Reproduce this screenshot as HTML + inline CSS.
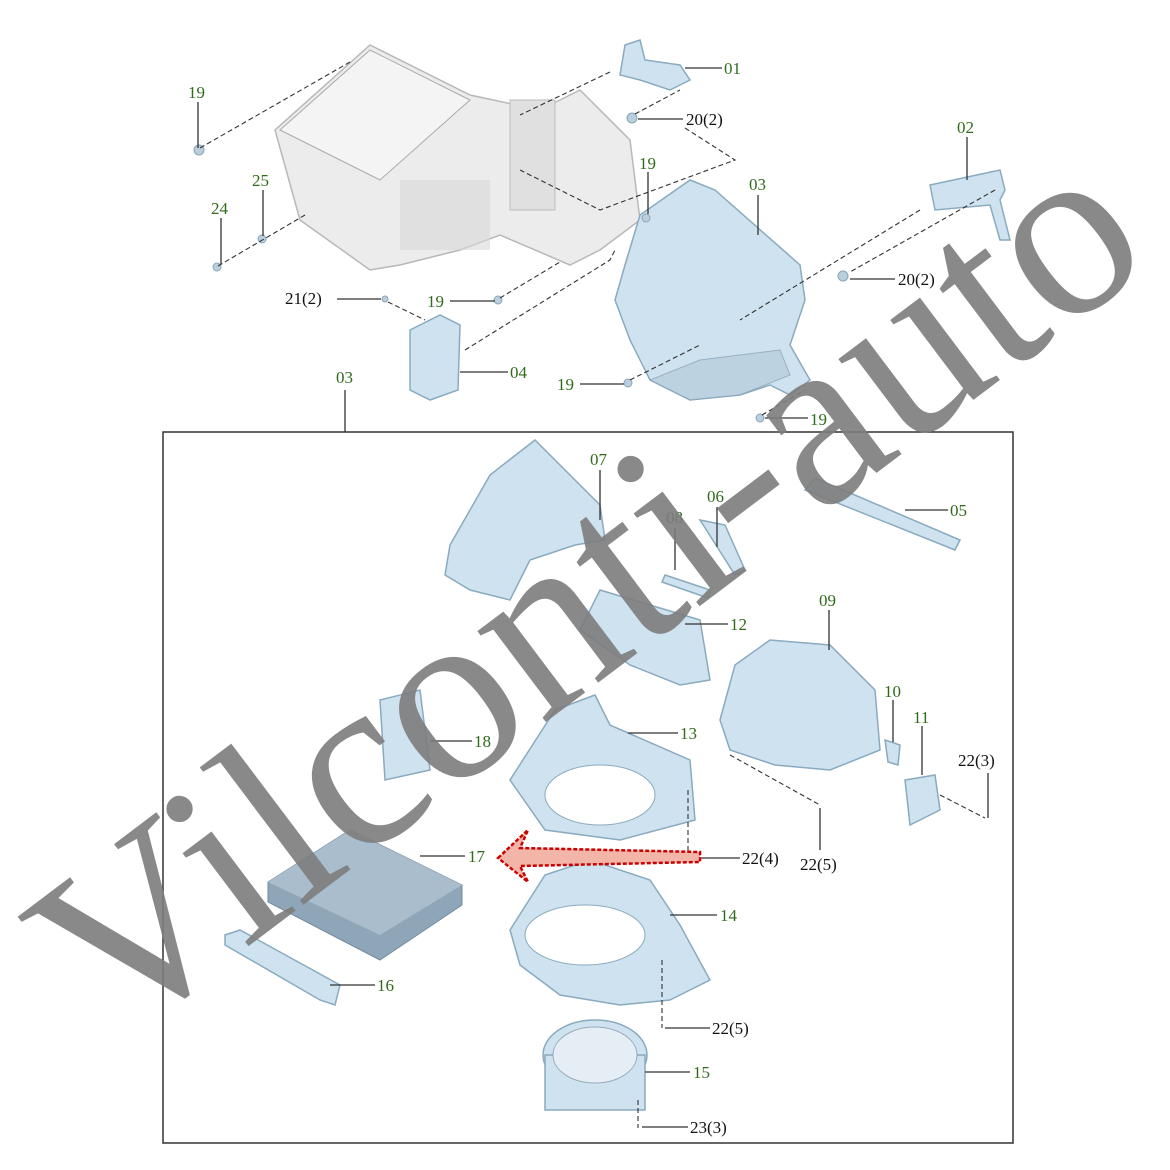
<!DOCTYPE html>
<html><head><meta charset="utf-8"><style>
html,body{margin:0;padding:0;background:#fff;}
svg{display:block}
.l{font-family:"Liberation Serif",serif;font-size:17px;fill:#2f6b1a}
.k{font-family:"Liberation Serif",serif;font-size:17px;fill:#111}
.ln{stroke:#333;stroke-width:1.3;fill:none}
.d{stroke:#333;stroke-width:1.1;stroke-dasharray:5,3;fill:none}
.p{fill:#cfe2ef;stroke:#8aaabf;stroke-width:1.5}
.g{fill:#ececec;stroke:#b8b8b8;stroke-width:1.5}
.n{fill:#b9cfde;stroke:#8aa5b8;stroke-width:1}
</style></head><body>
<svg width="1170" height="1170" viewBox="0 0 1170 1170" xmlns="http://www.w3.org/2000/svg">
<rect width="1170" height="1170" fill="#fff"/>
<polygon class="g" points="275,130 370,45 470,95 540,110 580,90 630,140 640,220 600,250 570,265 500,235 460,250 400,265 370,270 300,220"/>
<polygon points="280,130 370,50 470,100 380,180" fill="#f4f4f4" stroke="#aaa"/>
<rect x="400" y="180" width="90" height="70" fill="#d8d8d8" opacity=".6"/>
<rect x="510" y="100" width="45" height="110" fill="#e0e0e0" stroke="#bbb"/>
<polygon class="p" points="625,45 640,40 645,60 680,65 690,80 670,90 640,80 620,75"/>
<polygon class="p" points="930,185 1000,170 1005,190 1000,200 1010,240 1000,240 990,205 935,210"/>
<polygon class="p" points="640,215 690,180 715,190 800,265 805,300 790,345 810,380 790,395 770,385 740,395 690,400 650,380 630,340 615,300 625,265"/>
<polygon class="n" points="650,380 690,400 740,395 790,375 780,350 700,360" opacity=".8"/>
<polygon class="p" points="410,330 440,315 460,325 458,390 430,400 410,390"/>
<g class="n">
<circle cx="199" cy="150" r="5"/><circle cx="217" cy="267" r="4"/><circle cx="262" cy="239" r="4"/>
<circle cx="632" cy="118" r="5"/><circle cx="646" cy="218" r="4"/><circle cx="498" cy="300" r="4"/>
<circle cx="385" cy="299" r="3"/><circle cx="843" cy="276" r="5"/><circle cx="628" cy="383" r="4"/><circle cx="760" cy="418" r="4"/>
</g>
<line class="ln" x1="198" y1="102" x2="198" y2="148"/><text class="l" x="188" y="98">19</text>
<line class="ln" x1="263" y1="190" x2="263" y2="236"/><text class="l" x="252" y="186">25</text>
<line class="ln" x1="221" y1="218" x2="221" y2="264"/><text class="l" x="211" y="214">24</text>
<line class="d" x1="200" y1="148" x2="350" y2="62"/>
<line class="d" x1="218" y1="266" x2="305" y2="215"/>
<line class="ln" x1="685" y1="68" x2="722" y2="68"/><text class="l" x="724" y="74">01</text>
<line class="d" x1="610" y1="72" x2="520" y2="115"/>
<line class="ln" x1="638" y1="119" x2="683" y2="119"/><text class="k" x="686" y="125">20(2)</text>
<line class="d" x1="635" y1="114" x2="680" y2="90"/>
<polyline class="d" points="685,128 735,160 600,210 520,170"/>
<line class="ln" x1="648" y1="172" x2="648" y2="214"/><text class="l" x="639" y="169">19</text>
<line class="ln" x1="758" y1="195" x2="758" y2="235"/><text class="l" x="749" y="190">03</text>
<line class="ln" x1="967" y1="137" x2="967" y2="180"/><text class="l" x="957" y="133">02</text>
<line class="d" x1="920" y1="210" x2="740" y2="320"/>
<line class="d" x1="995" y1="190" x2="850" y2="272"/>
<line class="ln" x1="850" y1="279" x2="895" y2="279"/><text class="k" x="898" y="285">20(2)</text>
<line class="ln" x1="337" y1="299" x2="381" y2="299"/><text class="k" x="285" y="304">21(2)</text>
<line class="d" x1="388" y1="302" x2="425" y2="320"/>
<line class="ln" x1="450" y1="301" x2="495" y2="301"/><text class="l" x="427" y="307">19</text>
<line class="d" x1="500" y1="298" x2="560" y2="262"/>
<polyline class="d" points="465,350 610,260 615,250"/>
<line class="ln" x1="460" y1="372" x2="508" y2="372"/><text class="l" x="510" y="378">04</text>
<line class="ln" x1="580" y1="384" x2="624" y2="384"/><text class="l" x="557" y="390">19</text>
<line class="d" x1="630" y1="380" x2="700" y2="345"/>
<line class="ln" x1="765" y1="418" x2="808" y2="418"/><text class="l" x="810" y="425">19</text>
<line class="d" x1="762" y1="415" x2="805" y2="390"/>
<text class="l" x="336" y="383">03</text>
<line class="ln" x1="345" y1="390" x2="345" y2="432"/>
<rect x="163" y="432" width="850" height="711" fill="none" stroke="#333" stroke-width="1.5"/>
<polygon class="p" points="450,545 490,475 535,440 555,460 600,505 605,540 575,545 530,560 510,600 470,590 445,575"/>
<polygon class="p" points="815,478 960,540 955,550 805,490"/>
<polygon class="p" points="700,520 725,525 745,570 735,575"/>
<polygon class="p" points="665,575 710,590 708,598 662,582"/>
<polygon class="p" points="600,590 650,605 700,620 710,680 680,685 630,665 580,630"/>
<polygon class="p" points="735,665 770,640 830,645 875,690 880,750 830,770 775,765 730,750 720,720"/>
<polygon class="p" points="380,700 420,690 430,770 385,780"/>
<polygon class="p" points="555,710 595,695 610,725 690,760 695,820 620,840 545,830 510,780"/>
<ellipse cx="600" cy="795" rx="55" ry="30" fill="#fff" stroke="#8aaabf"/>
<polygon class="p" points="885,740 900,745 898,765 888,762"/>
<polygon class="p" points="905,780 935,775 940,810 910,825"/>
<polygon points="268,882 350,830 462,885 462,905 380,960 268,902" fill="#8ea6b8" stroke="#6e8aa0"/>
<polygon points="268,882 350,830 462,885 380,935" fill="#a9bdcc"/>
<polygon class="p" points="225,935 240,930 340,985 335,1005 320,1000 225,945"/>
<polygon class="p" points="545,875 590,860 650,880 680,925 710,980 690,990 670,1000 620,1005 560,995 520,965 510,930"/>
<ellipse cx="585" cy="935" rx="60" ry="30" fill="#fff" stroke="#8aaabf"/>
<ellipse cx="595" cy="1055" rx="52" ry="35" class="p"/>
<rect x="545" y="1055" width="100" height="55" class="p"/>
<ellipse cx="595" cy="1055" rx="42" ry="28" fill="#e5eef5" stroke="#9ab"/>
<line class="ln" x1="600" y1="470" x2="600" y2="520"/><text class="l" x="590" y="465">07</text>
<line class="ln" x1="717" y1="507" x2="717" y2="547"/><text class="l" x="707" y="502">06</text>
<line class="ln" x1="675" y1="528" x2="675" y2="570"/><text class="l" x="666" y="523">08</text>
<line class="ln" x1="905" y1="510" x2="948" y2="510"/><text class="l" x="950" y="516">05</text>
<line class="ln" x1="685" y1="624" x2="728" y2="624"/><text class="l" x="730" y="630">12</text>
<line class="ln" x1="829" y1="610" x2="829" y2="650"/><text class="l" x="819" y="606">09</text>
<line class="ln" x1="893" y1="700" x2="893" y2="742"/><text class="l" x="884" y="697">10</text>
<line class="ln" x1="922" y1="726" x2="922" y2="775"/><text class="l" x="913" y="723">11</text>
<text class="k" x="958" y="766">22(3)</text>
<line class="ln" x1="988" y1="773" x2="988" y2="818"/>
<line class="d" x1="940" y1="795" x2="985" y2="818"/>
<line class="ln" x1="628" y1="733" x2="678" y2="733"/><text class="l" x="680" y="739">13</text>
<line class="ln" x1="430" y1="741" x2="472" y2="741"/><text class="l" x="474" y="747">18</text>
<line class="d" x1="730" y1="755" x2="820" y2="805"/>
<line class="ln" x1="820" y1="808" x2="820" y2="850"/><text class="k" x="800" y="870">22(5)</text>
<line class="d" x1="688" y1="790" x2="688" y2="860"/>
<line class="ln" x1="693" y1="858" x2="740" y2="858"/><text class="k" x="742" y="864">22(4)</text>
<line class="ln" x1="420" y1="856" x2="465" y2="856"/><text class="l" x="468" y="862">17</text>
<polygon points="498,858 528,830 520,848 700,852 700,862 520,866 528,882" fill="#f3b5a8" stroke="#c00" stroke-width="2.5" stroke-dasharray="4,2"/>
<line class="ln" x1="670" y1="915" x2="717" y2="915"/><text class="l" x="720" y="921">14</text>
<line class="ln" x1="330" y1="985" x2="375" y2="985"/><text class="l" x="377" y="991">16</text>
<line class="d" x1="662" y1="960" x2="662" y2="1028"/>
<line class="ln" x1="665" y1="1028" x2="710" y2="1028"/><text class="k" x="712" y="1034">22(5)</text>
<line class="ln" x1="645" y1="1072" x2="690" y2="1072"/><text class="l" x="693" y="1078">15</text>
<line class="d" x1="638" y1="1100" x2="638" y2="1128"/>
<line class="ln" x1="642" y1="1127" x2="688" y2="1127"/><text class="k" x="690" y="1133">23(3)</text>
<text x="585" y="588" transform="rotate(-37 585 588)" text-anchor="middle" dominant-baseline="central" font-family="Liberation Serif, serif" font-size="248" fill="#7c7c7c" fill-opacity="0.9">Vilconti-auto</text>
</svg>
</body></html>
